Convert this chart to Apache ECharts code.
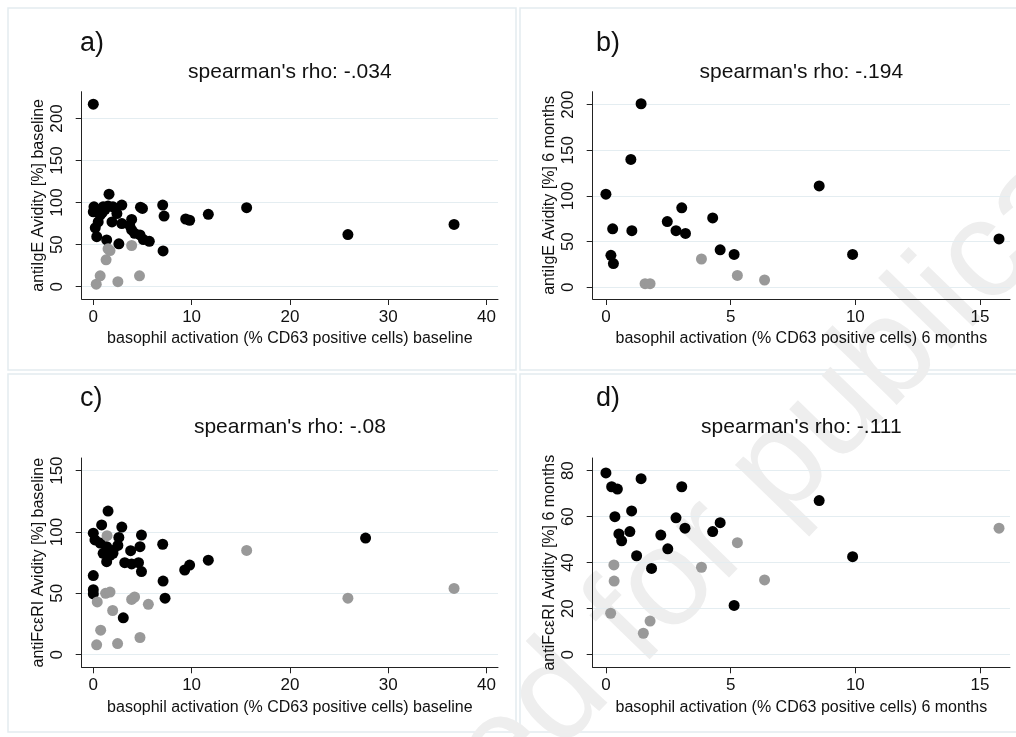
<!DOCTYPE html>
<html><head><meta charset="utf-8">
<script src="https://cdn.jsdelivr.net/npm/echarts@6/dist/echarts.min.js"></script>
<style>html,body{margin:0;padding:0;background:#fff}#c{width:1016px;height:737px}</style>
</head><body><div id="c"></div>
<script>
// Panel a: basophil activation baseline vs antiIgE avidity baseline
const aBlack = [[0,217],[0.07,95],[0,89],[0.2,70],[0.35,59.5],[0.5,77],[0.7,85],[1.0,95],[1.5,96],[1.6,110],[2.0,95],[2.9,97],[1.36,55.6],[1.9,77],[2.4,87],[2.6,51],[2.9,75],[3.7,73],[3.9,80],[3.9,67.5],[4.2,63.5],[4.75,61.5],[4.8,94.5],[5.0,93],[5.1,56],[5.7,54],[7.06,97],[7.2,84],[7.1,42.5],[9.4,80.5],[9.8,79],[11.7,86],[15.6,94],[25.9,62],[36.7,74],[1.2,92],[0.9,88]];
const aGray = [[0.3,3],[0.7,13],[1.3,32],[1.5,45],[1.7,43],[2.5,6],[3.9,49],[4.7,13]];
// Panel b: 6 months vs antiIgE avidity 6 months
const bBlack = [[0,102],[0.2,35],[0.3,26],[0.27,64],[1.0,140],[1.04,62],[1.41,201],[2.46,72],[2.81,62],[3.04,87],[3.19,59],[4.28,76],[4.58,41],[5.14,36],[8.55,111],[9.89,36],[15.76,53]];
const bGray = [[3.83,31],[1.57,4],[1.77,4],[5.27,13],[6.36,8]];
// Panel c: baseline vs antiFceRI avidity baseline
const cBlack = [[0,99],[0.17,93.5],[0.7,91],[0,64.5],[0,53],[0,49.5],[0.85,105.7],[1.5,117],[2.9,104],[2.6,95.6],[1.36,88],[2.0,85],[2.5,89],[1.0,82.6],[1.7,81],[2.0,82.6],[1.36,75.8],[3.2,75],[3.9,74],[3.8,84.8],[4.6,75],[4.75,88],[4.9,97.5],[4.9,67.7],[3.05,30],[7.06,90],[7.1,60],[7.3,46],[9.3,69],[9.8,73],[11.7,77],[27.7,95]];
const cGray = [[1.4,97],[1.25,50],[1.7,51],[0.4,43],[0.75,20],[1.97,36],[0.34,8],[2.47,9],[3.9,45],[4.2,47],[4.75,14],[5.6,41],[15.6,85],[25.9,46],[36.7,54]];
// Panel d: 6 months vs antiFceRI avidity 6 months
const dBlack = [[0,79],[0.23,73],[0.46,72],[0.36,60],[1.03,62.5],[1.41,76.5],[0.96,53.5],[0.52,52.5],[0.63,49.5],[1.23,43],[1.83,37.5],[2.2,52],[2.48,46],[2.81,59.5],[3.04,73],[3.17,55],[4.28,53.5],[4.58,57.4],[5.14,21.4],[8.55,67],[9.89,42.6]];
const dGray = [[0.32,39],[0.33,32],[0.19,18],[1.5,9.3],[1.77,14.6],[3.83,38],[5.27,48.7],[6.36,32.5],[15.76,55]];

const xTicksBase = [0,10,20,30,40];
const xTicks6m = [0,5,10,15];
const yTicksA = [0,50,100,150,200];
const yTicksB = [0,50,100,150,200];
const yTicksC = [0,50,100,150];
const yTicksD = [0,20,40,60,80];

const panelLetters = ['a)','b)','c)','d)'];
const rhoTexts = ["spearman's rho: -.034","spearman's rho: -.194","spearman's rho: -.08","spearman's rho: -.111"];
const xNames = ['basophil activation (% CD63 positive cells) baseline','basophil activation (% CD63 positive cells) 6 months','basophil activation (% CD63 positive cells) baseline','basophil activation (% CD63 positive cells) 6 months'];
const yNames = ['antiIgE Avidity [%] baseline','antiIgE Avidity [%] 6 months','antiFc\u03b5RI Avidity [%] baseline','antiFc\u03b5RI Avidity [%] 6 months'];

const FONT = 'Liberation Sans, Arial, sans-serif';
const grids = [
  {left:81.7, top:91.7, width:416.3, height:207.3},
  {left:592.7, top:91.7, width:417.3, height:207.3},
  {left:81.7, top:458, width:416.3, height:209.3},
  {left:592.7, top:458, width:417.3, height:209.3}
];
const xRanges = [[-1.18,41.17],[-0.53,16.2],[-1.18,41.17],[-0.53,16.2]];
const yRanges = [[-14.6,231.8],[-12.8,214.2],[-10.3,160.3],[-5.5,85.5]];
const xTicks = [xTicksBase,xTicks6m,xTicksBase,xTicks6m];
const yTicks = [yTicksA,yTicksB,yTicksC,yTicksD];
const blacks = [aBlack,bBlack,cBlack,dBlack];
const grays = [aGray,bGray,cGray,dGray];

const xAxis = [], yAxis = [], series = [], title = [];
for (let i=0;i<4;i++){
  xAxis.push({
    type:'value', gridIndex:i, min:xRanges[i][0], max:xRanges[i][1],
    axisLine:{show:true,onZero:false,lineStyle:{color:'#222',width:1}},
    axisTick:{show:true,length:6,customValues:xTicks[i],lineStyle:{color:'#222'}},
    axisLabel:{customValues:xTicks[i],fontSize:17,color:'#111',margin:10,fontFamily:FONT},
    splitLine:{show:false},
    name:xNames[i], nameLocation:'middle', nameGap:32,
    nameTextStyle:{fontSize:16,color:'#111',fontFamily:FONT}
  });
  yAxis.push({
    type:'value', gridIndex:i, min:yRanges[i][0], max:yRanges[i][1],
    axisLine:{show:true,onZero:false,lineStyle:{color:'#222',width:1}},
    axisTick:{show:true,length:6,customValues:yTicks[i],lineStyle:{color:'#222'}},
    axisLabel:{customValues:yTicks[i],rotate:90,fontSize:17,color:'#111',margin:16,fontFamily:FONT},
    splitLine:{show:true,lineStyle:{color:'#e4edf1',width:1}},
    name:yNames[i], nameLocation:'middle', nameGap:35,
    nameTextStyle:{fontSize:16,color:'#111',fontFamily:FONT}
  });
  series.push({type:'scatter',xAxisIndex:i,yAxisIndex:i,data:blacks[i],symbolSize:11,itemStyle:{color:'#000',opacity:1},z:3});
  series.push({type:'scatter',xAxisIndex:i,yAxisIndex:i,data:grays[i],symbolSize:11,itemStyle:{color:'#999999',opacity:1},z:4});
  const g = grids[i];
  const cx = g.left + g.width/2;
  const top0 = i<2 ? 0 : 355;
  title.push({text:panelLetters[i],left:i%2===0?80:596,top:top0+30,textStyle:{fontSize:27,fontWeight:'normal',color:'#111',fontFamily:FONT},padding:0});
  title.push({text:rhoTexts[i],left:cx,textAlign:'center',top:top0+62,textStyle:{fontSize:21,fontWeight:'normal',color:'#111',fontFamily:FONT},padding:0});
}

const chart = echarts.init(document.getElementById('c'),null,{renderer:'canvas'});
chart.setOption({
  animation:false,
  backgroundColor:'#fff',
  title,
  grid: grids,
  xAxis, yAxis, series,
  graphic:[
    {type:'text',x:700,y:552,rotation:0.8,z:-1,silent:true,
     style:{text:'Accepted for publication',fontSize:140,fill:'#eeeeee',fontFamily:FONT,textAlign:'center',textVerticalAlign:'middle'}},
    {type:'rect',shape:{x:8,y:8,width:508,height:362},style:{fill:'none',stroke:'#e3ecf0',lineWidth:1.5},z:-2,silent:true},
    {type:'rect',shape:{x:520,y:8,width:500,height:362},style:{fill:'none',stroke:'#e3ecf0',lineWidth:1.5},z:-2,silent:true},
    {type:'rect',shape:{x:8,y:374,width:508,height:358},style:{fill:'none',stroke:'#e3ecf0',lineWidth:1.5},z:-2,silent:true},
    {type:'rect',shape:{x:520,y:374,width:500,height:358},style:{fill:'none',stroke:'#e3ecf0',lineWidth:1.5},z:-2,silent:true}
  ]
});
</script></body></html>
